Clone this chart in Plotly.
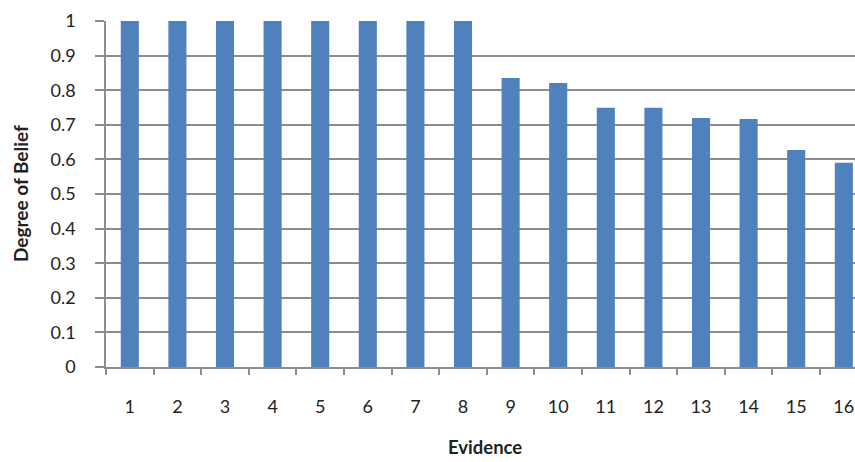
import plotly.graph_objects as go

# Evidence items and their degree of belief
evidence = [str(i) for i in range(1, 17)]
belief = [1.0, 1.0, 1.0, 1.0, 1.0, 1.0, 1.0, 1.0,
          0.835, 0.821, 0.749, 0.749, 0.72, 0.717, 0.627, 0.59]
y_ticks = [0, 0.1, 0.2, 0.3, 0.4, 0.5, 0.6, 0.7, 0.8, 0.9, 1]
y_tick_text = ["0", "0.1", "0.2", "0.3", "0.4", "0.5", "0.6", "0.7", "0.8", "0.9", "1"]

BAR = "#4F81BD"
GRID = "#8c8c8c"
TEXT = "#222222"
FONT = "Lato"

fig = go.Figure(
    go.Bar(x=evidence, y=belief, marker=dict(color=BAR, line=dict(width=0)))
)

fig.update_layout(
    width=855,
    height=462,
    margin=dict(l=106, r=0, t=21, b=95),
    plot_bgcolor="white",
    paper_bgcolor="white",
    bargap=0.62,
    showlegend=False,
    font=dict(family=FONT, size=18, color=TEXT),
)

fig.update_xaxes(
    type="category",
    categoryorder="array",
    categoryarray=evidence,
    range=[-0.5, 15.235],
    showgrid=False,
    showline=True,
    linecolor=GRID,
    linewidth=1.5,
    ticks="outside",
    tickson="boundaries",
    ticklen=6,
    tickcolor=GRID,
    tickwidth=1.5,
    ticklabelstandoff=23,
    tickfont=dict(family=FONT, size=18, color=TEXT),
)

fig.update_yaxes(
    range=[0, 1],
    tickvals=y_ticks,
    ticktext=y_tick_text,
    showgrid=True,
    gridcolor=GRID,
    gridwidth=1.5,
    showline=True,
    linecolor=GRID,
    linewidth=1.5,
    ticks="outside",
    ticklen=9,
    tickcolor=GRID,
    tickwidth=1.5,
    ticklabelstandoff=16,
    zeroline=False,
    tickfont=dict(family=FONT, size=18, color=TEXT),
)

# Axis titles
fig.add_annotation(
    text="<b>Evidence</b>", xref="paper", yref="paper",
    x=0.506, y=-(460 - 367) / 346, xanchor="center", yanchor="bottom",
    showarrow=False, font=dict(family=FONT, size=18.5, color=TEXT),
)
fig.add_annotation(
    text="<b>Degree of Belief</b>", xref="paper", yref="paper",
    x=-(106 - 20) / 749, y=0.5, xanchor="center", yanchor="middle",
    textangle=-90, showarrow=False, font=dict(family=FONT, size=19, color=TEXT),
)

fig.write_html("out.html")
